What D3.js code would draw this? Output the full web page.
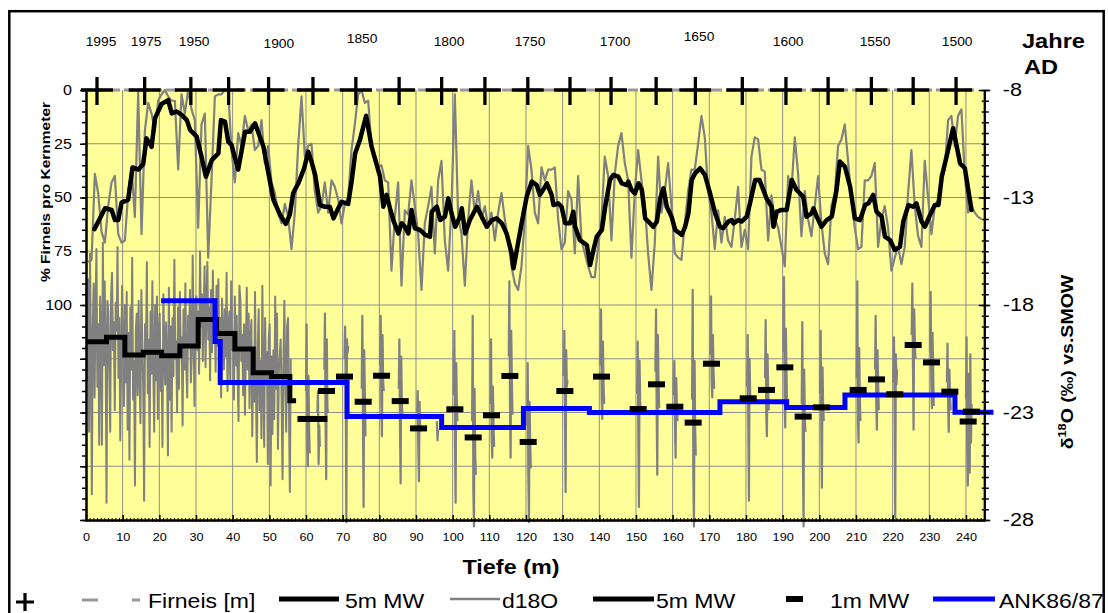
<!DOCTYPE html>
<html><head><meta charset="utf-8">
<script src="https://cdn.jsdelivr.net/npm/d3@7/dist/d3.min.js"></script>
<style>
body{margin:0;background:#fff;}
svg{display:block;font-family:"Liberation Sans",Arial,sans-serif;}
</style></head><body>
<svg id="c" width="1108" height="613"></svg>
<script>
// ---------------- DATA ----------------
// Year markers (top) : calendar year and the core depth (m) where it falls
const markYears  = [1995,1975,1950,1925,1900,1875,1850,1825,1800,1775,1750,1725,1700,1675,1650,1625,1600,1575,1550,1525,1500];
const markDepths = [3.0,16.0,28.6,38.9,49.8,61.9,73.6,85.4,97.0,108.8,120.5,132.0,143.2,155.5,166.2,179.0,190.9,202.4,214.2,225.6,237.3];
const yearLabels      = ["1995","1975","1950","1900","1850","1800","1750","1700","1650","1600","1550","1500"];
const yearLabelDepths = [4.1,16.4,29.5,52.6,75.3,99.0,121.1,144.3,167.2,191.5,215.2,237.6];

// % Firneis pro Kernmeter (samples every ~0.91 m starting at 0.6 m)
const firnStart = 0.6, firnStep = 0.909;
const firnPct = [80,79,39,48,66,71,54,43,40,67,71,70,48,36,59,1,67,19,6,11,
19,5,2,0,3,5,5,37,2,11,0,9,14,64,16,11,78,42,3,2,
2,0,0,28,43,20,26,12,19,16,28,26,14,34,26,43,48,57,62,53,
59,74,57,26,3,31,26,25,47,57,54,43,57,42,45,51,62,53,50,28,
16,2,0,6,5,26,33,36,
35,42,43,84,59,43,91,56,58,42,54,67,93,62,54,45,76,42,33,70,
84,54,2,59,67,91,60,42,57,47,60,54,64,57,70,57,48,60,70,82,
90,93,82,60,26,37,57,62,36,42,37,37,36,60,74,71,47,51,76,40,
70,76,82,87,87,73,60,31,40,70,39,26,20,34,42,78,47,28,42,53,
76,93,71,31,57,47,34,54,76,78,79,62,47,37,37,25,12,22,47,57,
74,56,71,59,70,73,60,45,73,65,74,31,22,23,37,
38,70,49,60,64,73,82,40,47,22,39,68,47,60,68,54,40,62,76,81,
54,48,26,23,16,33,51,64,74,73,42,42,40,34,73,60,54,64,84,78,
73,81,73,48,28,54,68,73,33,50,67,54,51,42,37,14,12,26,12,9,
39,57,54,57,59,60];

// 5m MW of Firneis %
const firnMwDepth = [2.3,5.2,7.0,7.9,8.8,9.7,11.5,12.7,14.3,15.6,16.5,17.9,18.8,20.6,22.4,23.4,24.7,26.1,27.5,28.4,
30.2,31.5,32.7,34.3,36.1,36.8,37.9,38.8,39.7,41.5,43.4,44.7,46.1,48.4,51.1,52.9,54.5,55.6,56.5,57.9,
59.5,60.6,61.5,62.5,63.8,65.2,66.5,67.5,68.8,69.7,71.5,72.5,73.4,74.7,76.4,77.9,
80.2,81.1,82.0,82.9,83.8,85.2,86.1,87.0,87.9,88.8,89.7,91.1,92.5,93.8,94.3,95.7,96.6,97.9,98.8,99.7,
100.7,102.0,102.5,103.4,104.7,106.6,107.9,109.3,110.7,112.0,113.4,114.7,116.1,116.6,117.5,118.8,120.2,121.6,122.9,123.8,
125.2,125.7,127.0,127.5,128.8,129.7,130.7,132.0,132.9,133.4,134.7,136.6,137.5,138.4,139.3,140.7,141.6,142.9,143.8,145.2,
146.1,147.5,147.9,148.8,149.7,150.7,151.6,152.5,153.4,154.7,155.7,156.6,157.5,158.4,159.7,160.7,162.5,163.4,164.3,165.2,
166.1,167.5,168.8,170.2,171.6,172.9,173.8,175.2,176.1,176.6,177.9,178.8,180.2,181.1,182.5,183.7,
185.6,187.0,187.5,188.4,189.7,191.1,192.5,193.8,195.6,196.5,197.9,198.4,199.3,200.6,202.0,203.4,204.7,205.6,207.0,208.4,
209.7,211.1,212.5,213.4,214.7,215.6,217.0,217.9,219.3,220.6,222.0,222.9,224.3,225.6,226.5,227.9,228.8,230.2,231.5,232.5,
233.4,234.7,236.5,238.4,239.7,241.5];
const firnMwPct = [64.7,55,55.8,60.5,60.5,52.4,51,36,37,34.4,22.5,26.4,13.2,6.5,4.7,10.9,10,11.6,14,18.6,
21.7,31,40.3,32.6,29.5,14,14.7,24,25.6,37,19.4,19.4,15.5,26.4,51,58,62.3,58,48,43.4,
36.4,28.7,33.3,39.5,53.5,54.3,54.3,59.7,55,52,53,41.9,29.5,23.3,12,26.4,
40.3,54.3,48.8,55.0,60.5,66.7,62.0,63.6,66.7,55.8,64.3,65.1,67.4,68.2,56.6,54.3,60.5,58.9,50.4,57.4,
63.6,58.9,55.0,66.7,60.5,54.3,58.9,63.6,60.5,59.7,62.0,66.7,76.0,82.9,74.4,62.0,49.6,42.6,44.2,48.8,
45.0,43.4,48.8,53.5,52.7,54.3,62.0,62.0,56.6,63.6,69.8,72.1,81.4,74.4,68.2,65.1,54.3,41.9,39.5,40.3,
43.4,44.2,42.6,46.5,48.1,43.4,46.5,59.7,61.2,63.6,61.2,50.4,45.7,54.3,58.9,65.1,67.4,63.6,57.4,41.9,
38.8,36.4,39.5,48.1,57.4,63.6,64.3,61.2,60.5,62.0,60.5,61.2,58.9,52.7,41.9,41.9,
50.4,54.3,63.6,56.6,55.8,55.8,41.9,46.5,49.6,58.9,57.4,55.0,58.9,63.6,60.5,58.9,46.5,33.3,35.7,45.0,
59.7,60.5,53.5,52.7,48.8,56.6,58.9,68.2,69.8,74.4,72.9,61.2,53.5,54.3,52.7,61.2,63.6,58.1,53.5,53.5,
40.3,31.0,17.8,34.1,36.4,55.8];

// d18O, continuous section 0-56 m (4 samples per metre)
const d18oDenseStart = 0.1, d18oDenseStep = 0.25;
const d18oDense = [
-17.2,-21.5,-16.8,-23.9, -15.6,-20.2,-26.8,-19.0, -17.0,-22.3,-18.1,-15.4, -21.8,-18.9,-24.5,-17.6,
-19.4,-24.5,-15.1,-20.8, -16.9,-19.8,-27.2,-17.8, -18.3,-21.0,-23.9,-17.5, -16.5,-20.1,-18.8,-22.9,
-17.9,-19.2,-15.3,-21.4, -18.6,-24.3,-20.5,-17.1, -19.9,-22.7,-18.0,-21.6, -17.4,-23.8,-19.3,-25.2,
-18.1,-21.0,-15.8,-22.4, -20.6,-26.4,-19.1,-18.4, -22.2,-17.8,-20.9,-23.5, -17.3,-19.7,-21.8,-27.1,
-18.9,-20.3,-16.0,-22.1, -19.6,-24.6,-18.3,-21.2, -16.9,-20.8,-23.9,-18.0, -21.5,-17.6,-23.3,-19.2,
-18.4,-22.0,-20.1,-24.6, -17.5,-19.9,-21.7,-18.8, -20.6,-25.0,-17.2,-22.4, -19.0,-23.9,-18.6,-21.3,
-15.9,-20.5,-19.7,-23.0, -18.1,-21.9,-17.4,-20.3, -19.5,-23.6,-18.2,-21.0, -17.0,-20.7,-22.3,-18.5,
-19.8,-17.3,-21.6,-20.4, -15.7,-19.2,-22.7,-18.0, -17.6,-20.1,-18.3,-21.2, -15.5,-19.0,-17.5,-20.6,
-18.4,-16.2,-20.9,-17.8, -16.0,-19.6,-18.1,-21.5, -17.3,-20.2,-16.4,-19.4, -18.0,-21.1,-17.1,-19.9,
-16.8,-20.5,-18.6,-22.3, -17.7,-19.3,-21.0,-18.2, -20.4,-16.5,-22.0,-19.0, -18.3,-21.6,-16.9,-20.1,
-19.2,-22.4,-17.6,-20.8, -18.5,-21.3,-23.4,-17.1, -17.8,-20.6,-19.4,-22.2, -18.9,-23.1,-20.0,-17.2,
-21.0,-18.4,-22.8,-19.6, -18.7,-24.1,-20.3,-22.5, -17.4,-21.8,-25.3,-20.0, -18.2,-22.9,-20.6,-24.2,
-17.1,-21.4,-24.6,-18.6, -21.7,-20.2,-25.4,-19.5, -18.9,-26.4,-20.4,-24.0, -20.1,-23.3,-17.6,-21.9,
-18.4,-24.7,-21.1,-20.3, -19.6,-22.4,-26.1,-20.7, -17.8,-21.5,-23.9,-19.0, -18.6,-22.8,-26.7,-20.5];

// d18O, single-metre sections below 56 m (start depth, samples every 0.17 m)
const burstStep = 0.17;
const burstStart = [60.0,63.1,65.0,70.5,75.2,80.2,85.3,90.3,95.7,100.3,105.3,110.3,115.3,120.3,130.3,140.3,150.3,155.3,
160.3,165.3,170.3,180.3,185.2,190.2,195.2,200.2,210.2,215.2,220.2,225.2,230.2,234.8,240.0];
const burstValues = [
[-22.0,-18.9,-24.6,-25.5,-21.3,-23.8,-24.9],
[-23.0,-22.0,-25.4,-23.6,-24.6],
[-21.0,-18.4,-23.5,-26.1,-19.6,-22.8,-23.0],
[-20.5,-19.0,-21.8,-28.1,-19.6,-20.2,-19.9],
[-21.9,-18.5,-23.4,-27.4,-20.1,-22.0,-24.1],
[-20.8,-18.5,-22.7,-24.1,-19.4,-21.6,-22.0],
[-21.9,-19.6,-23.7,-26.3,-20.4,-22.6,-23.1],
[-23.0,-22.0,-24.8,-26.2,-22.5,-23.9],
[-23.4,-24.3,-23.8],
[-22.2,-19.2,-24.5,-27.2,-20.7,-22.6,-23.4],
[-23.4,-18.5,-26.6,-28.3,-21.9,-24.8,-25.9],
[-22.6,-19.6,-24.3,-25.1,-21.8,-23.7,-24.6],
[-20.4,-16.9,-22.8,-25.1,-19.2,-21.5,-23.1],
[-23.6,-20.7,-25.9,-28.1,-22.5,-24.4,-25.6],
[-21.3,-19.2,-23.4,-26.7,-20.1,-21.8,-21.5],
[-20.8,-18.2,-22.4,-23.3,-19.7,-21.6,-22.6],
[-22.1,-19.7,-24.2,-27.4,-20.6,-22.5,-23.1],
[-21.1,-18.2,-22.9,-25.9,-19.4,-21.6,-22.8],
[-22.2,-20.6,-23.5,-25.1,-21.4,-22.6,-23.4],
[-22.4,-17.3,-25.9,-28.3,-20.6,-23.8,-25.0],
[-20.3,-17.6,-21.6,-22.3,-19.4,-21.0,-21.9],
[-21.8,-19.4,-23.6,-27.1,-20.5,-22.2,-22.6],
[-21.4,-18.7,-23.2,-24.1,-20.3,-22.0,-22.9],
[-20.2,-16.7,-22.4,-23.7,-19.1,-21.0,-22.8],
[-22.6,-18.8,-25.4,-28.3,-21.0,-23.3,-23.9],
[-22.1,-19.2,-24.0,-26.5,-20.9,-22.7,-23.4],
[-21.4,-16.9,-23.4,-24.4,-20.0,-22.2,-23.4],
[-21.0,-18.5,-22.6,-23.8,-20.1,-21.6,-22.9],
[-21.6,-19.5,-23.1,-27.9,-20.3,-21.7,-21.0],
[-19.4,-17.0,-20.8,-23.8,-18.2,-19.6,-20.5],
[-20.2,-17.4,-21.6,-22.8,-19.3,-20.9,-22.7],
[-21.6,-19.8,-22.7,-23.9,-21.0,-22.1,-22.9],
[-22.4,-19.5,-24.7,-26.4,-21.2,-23.6,-25.8,-20.3,-24.4,-22.6]];

// 5m MW of d18O (step starts) and end depth
const mw5Depth = [0,5.6,10.6,15.6,20.6,25.6,30.6,35.6,40.6,45.6,50.6,55.6];
const mw5Value = [-19.71,-19.50,-20.33,-20.20,-20.36,-19.91,-18.67,-19.32,-20.05,-21.15,-21.33,-22.45];
const mw5End = 57.3;

// 1m MW of d18O
const mw1Depth = [60.0,63.5,65.6,70.5,75.6,80.6,85.7,90.7,100.6,105.6,110.6,115.6,120.6,130.6,140.6,150.6,155.6,160.6,
165.6,170.6,180.6,185.6,190.6,195.6,200.6,210.6,215.6,220.6,225.6,230.6,235.6,240.6,241.5];
const mw1Value = [-23.3,-23.3,-22.0,-21.33,-22.5,-21.29,-22.47,-23.74,-22.85,-24.16,-23.13,-21.3,-24.37,-22.0,-21.33,-22.84,-21.69,-22.73,
-23.47,-20.73,-22.34,-21.95,-20.9,-23.19,-22.76,-21.95,-21.46,-22.15,-19.86,-20.67,-22.03,-23.42,-22.96];

// ANK86/87 (step starts) and end depth
const ankDepth = [20.5,35.2,36.6,71.2,97.0,119.3,137.3,172.9,191.1,207.0,237.0];
const ankValue = [-17.8,-19.7,-21.6,-23.19,-23.7,-22.81,-23.0,-22.5,-22.77,-22.19,-22.99];
const ankEnd = 247.5;

// axis ticks
const leftTicks = [0,25,50,75,100,125,150,175,200];
const leftLabels = [0,25,50,75,100];
const rightTicks = [-8,-13,-18,-23,-28];
const bottomTicks = [0,10,20,30,40,50,60,70,80,90,100,110,120,130,140,150,160,170,180,190,200,210,220,230,240];

// legend
const legendNames = ["Firneis [m]","5m MW","d18O","5m MW","1m MW","ANK86/87"];

// ---------------- LAYOUT ----------------
const yearLabelY = [46,46,46,48,43,46,46,46,41,46,46,46];
const FONT = '"Liberation Sans", Arial, sans-serif';
const svg = d3.select("#c");
const x  = d3.scaleLinear().domain([0,245]).range([86,984.3]);
const yL = d3.scaleLinear().domain([0,200]).range([90,520]);
const yR = d3.scaleLinear().domain([-8,-28]).range([90,520]);
const GRAY = "#808080";

function sText(g, str, tx, ty, opt){
  const t = g.append("text")
    .attr("transform", `translate(${tx},${ty})${opt.rot?` rotate(${opt.rot})`:""} scale(${opt.k||1.15},1)`)
    .attr("text-anchor", opt.anchor||"start")
    .attr("font-size", opt.size)
    .attr("font-weight", opt.bold?"bold":"normal")
    .attr("fill","#000");
  if (str!==null) t.text(str);
  return t;
}

// plot background
svg.append("rect").attr("x",x(0)).attr("y",yL(0)).attr("width",x(245)-x(0)).attr("height",yL(200)-yL(0)).attr("fill","#FFFF99");

// grid
const grid = svg.append("g").attr("stroke","#8c8c8c").attr("stroke-width",1);
grid.selectAll("line.v").data(bottomTicks.filter(d=>d>0)).join("line")
  .attr("x1",d=>x(d)).attr("x2",d=>x(d)).attr("y1",yL(0)).attr("y2",yL(200));
grid.selectAll("line.h").data(leftTicks.filter(d=>d>0&&d<200)).join("line")
  .attr("x1",x(0)).attr("x2",x(245)).attr("y1",d=>yL(d)).attr("y2",d=>yL(d));

// Firneis gray
const firnData = firnPct.map((v,i)=>[firnStart+i*firnStep, v]);
svg.append("path").datum(firnData)
  .attr("d", d3.line().x(d=>x(d[0])).y(d=>yL(d[1])))
  .attr("fill","none").attr("stroke",GRAY).attr("stroke-width",2.2).attr("stroke-linejoin","round");

// d18O gray dense
const denseData = d18oDense.map((v,i)=>[d18oDenseStart+i*d18oDenseStep, v]);
const lineR = d3.line().x(d=>x(d[0])).y(d=>yR(d[1]));
svg.append("path").datum(denseData).attr("d", lineR)
  .attr("fill","none").attr("stroke",GRAY).attr("stroke-width",2).attr("stroke-linejoin","round");
// bursts
svg.append("g").selectAll("path").data(burstStart.map((s,j)=>burstValues[j].map((v,i)=>[s+i*burstStep, v])))
  .join("path").attr("d", lineR)
  .attr("fill","none").attr("stroke",GRAY).attr("stroke-width",2.2).attr("stroke-linejoin","round");

// Firneis 5m MW
svg.append("path").datum(firnMwDepth.map((d,i)=>[d, firnMwPct[i]]))
  .attr("d", d3.line().x(d=>x(d[0])).y(d=>yL(d[1])))
  .attr("fill","none").attr("stroke","#000").attr("stroke-width",4.5).attr("stroke-linejoin","round").attr("stroke-linecap","round");

// d18O 5m MW steps
const mw5Data = mw5Depth.map((d,i)=>[d, mw5Value[i]]).concat([[mw5End, mw5Value[mw5Value.length-1]]]);
svg.append("path").datum(mw5Data).attr("d", d3.line().x(d=>x(d[0])).y(d=>yR(d[1])).curve(d3.curveStepAfter))
  .attr("fill","none").attr("stroke","#000").attr("stroke-width",5);

// ANK86/87 steps
const ankData = ankDepth.map((d,i)=>[d, ankValue[i]]).concat([[ankEnd, ankValue[ankValue.length-1]]]);
svg.append("path").datum(ankData).attr("d", d3.line().x(d=>x(d[0])).y(d=>yR(d[1])).curve(d3.curveStepAfter))
  .attr("fill","none").attr("stroke","#0000FF").attr("stroke-width",5);

// 1m MW dashes
svg.append("g").selectAll("rect").data(mw1Depth.map((d,i)=>[d, mw1Value[i]])).join("rect")
  .attr("x",d=>x(d[0])-8.5).attr("y",d=>yR(d[1])-3).attr("width",17).attr("height",6).attr("fill","#000");

// ---------------- AXES ----------------
function styleAxis(g){
  g.select(".domain").attr("stroke","#000").attr("stroke-width",2);
  g.selectAll(".tick line").attr("stroke","#000").attr("stroke-width",1.5);
}
// left
const gLm = svg.append("g").attr("transform",`translate(${x(0)},0)`)
  .call(d3.axisLeft(yL).tickValues(d3.range(0,201,5)).tickSize(4).tickSizeOuter(0).tickFormat(""));
styleAxis(gLm);
const gL = svg.append("g").attr("transform",`translate(${x(0)},0)`)
  .call(d3.axisLeft(yL).tickValues(leftTicks).tickSize(6).tickSizeOuter(0).tickFormat(d=>leftLabels.includes(d)?d:""));
styleAxis(gL);
gL.selectAll(".tick text").attr("font-family",FONT).attr("font-size",14).attr("fill","#000")
  .attr("x",-14/1.15).attr("transform","scale(1.15,1)");
// right
const gRm = svg.append("g").attr("transform",`translate(${x(245)},0)`)
  .call(d3.axisRight(yR).tickValues(d3.range(0,41).map(i=>-8-i*0.5)).tickSize(4).tickSizeOuter(0).tickFormat(""));
styleAxis(gRm);
gRm.selectAll(".tick line").attr("x1",-2.5).attr("x2",4.5);
const gR = svg.append("g").attr("transform",`translate(${x(245)},0)`)
  .call(d3.axisRight(yR).tickValues(rightTicks).tickSize(6).tickSizeOuter(0).tickFormat(d=>d));
styleAxis(gR);
gR.selectAll(".tick line").attr("x1",-5.5).attr("x2",6);
gR.selectAll(".tick text").attr("font-family",FONT).attr("font-size",18).attr("fill","#000")
  .attr("x",18.5/1.2).attr("transform","scale(1.2,1)");
// bottom
const gBm = svg.append("g").attr("transform",`translate(0,${yL(200)})`)
  .call(d3.axisBottom(x).tickValues(d3.range(0,246,1)).tickSize(2).tickSizeOuter(0).tickFormat(""));
styleAxis(gBm);
gBm.selectAll(".tick line").attr("y1",-2).attr("y2",2).attr("stroke-width",1);
const gB = svg.append("g").attr("transform",`translate(0,${yL(200)})`)
  .call(d3.axisBottom(x).tickValues(bottomTicks).tickSize(2).tickSizeOuter(0).tickFormat(d=>d));
styleAxis(gB);
gB.selectAll(".tick line").attr("y1",-5).attr("y2",2);
gB.selectAll(".tick text").attr("font-family",FONT).attr("font-size",11).attr("fill","#000")
  .attr("y",13).attr("transform","scale(1.15,1)");

// top: Firneis [m] gray dashed + year crosses
svg.append("line").attr("x1",x(0)-4).attr("x2",x(245)-6).attr("y1",yL(0)).attr("y2",yL(0))
  .attr("stroke","#999").attr("stroke-width",3).attr("stroke-dasharray","10,4");
svg.append("g").selectAll("path").data(markDepths).join("path")
  .attr("d",d=>`M${x(d)-16},${yL(0)}H${x(d)+16}M${x(d)},${yL(0)-13}V${yL(0)+15}`)
  .attr("stroke","#000").attr("stroke-width",3.3).attr("fill","none");

// year labels
const gy = svg.append("g").attr("font-family",FONT);
yearLabels.forEach((s,i)=> sText(gy, s, x(yearLabelDepths[i]), yearLabelY[i], {size:12, anchor:"middle", k:1.15}));
sText(gy, "Jahre", 1022, 48, {size:20, bold:true, k:1.18});
sText(gy, "AD", 1024, 74, {size:20, bold:true, k:1.18});

// axis titles
const gt = svg.append("g").attr("font-family",FONT);
sText(gt, "% Firneis pro Kernmeter", 49.5, 192, {size:13.5, bold:true, anchor:"middle", rot:-90, k:1.15});
const rt = sText(gt, null, 1073, 362, {size:17, bold:true, anchor:"middle", rot:-90, k:1.15});
rt.append("tspan").text("δ");
rt.append("tspan").attr("font-size",11).attr("dy",-7).text("18");
rt.append("tspan").attr("dy",7).text("O (‰) vs.SMOW");
sText(gt, "Tiefe (m)", 511, 574, {size:19.5, bold:true, anchor:"middle", k:1.2});

// ---------------- LEGEND ----------------
const lg = svg.append("g").attr("font-family",FONT);
const LY = 599;
lg.append("path").attr("d",`M16,602H34M25,593V611`).attr("stroke","#000").attr("stroke-width",3.2);
lg.append("line").attr("x1",82).attr("x2",140).attr("y1",LY+1).attr("y2",LY+1)
  .attr("stroke","#999").attr("stroke-width",3).attr("stroke-dasharray","16,34");
lg.append("line").attr("x1",279).attr("x2",339).attr("y1",LY).attr("y2",LY).attr("stroke","#000").attr("stroke-width",5);
lg.append("line").attr("x1",450).attr("x2",500).attr("y1",LY).attr("y2",LY).attr("stroke",GRAY).attr("stroke-width",2.5);
lg.append("line").attr("x1",593).attr("x2",654).attr("y1",LY).attr("y2",LY).attr("stroke","#000").attr("stroke-width",5);
lg.append("rect").attr("x",786).attr("y",LY-3).attr("width",17).attr("height",6).attr("fill","#000");
lg.append("line").attr("x1",933).attr("x2",995).attr("y1",LY).attr("y2",LY).attr("stroke","#0000FF").attr("stroke-width",5);
const legendX = [148,345,502,656,830,999];
legendNames.forEach((s,i)=> sText(lg, s, legendX[i], 608, {size:19.5, k:1.18}));

// outer frame
svg.append("rect").attr("x",9.3).attr("y",11.2).attr("width",1094.4).attr("height",640)
  .attr("fill","none").attr("stroke","#000").attr("stroke-width",2.5);
</script>
</body></html>
